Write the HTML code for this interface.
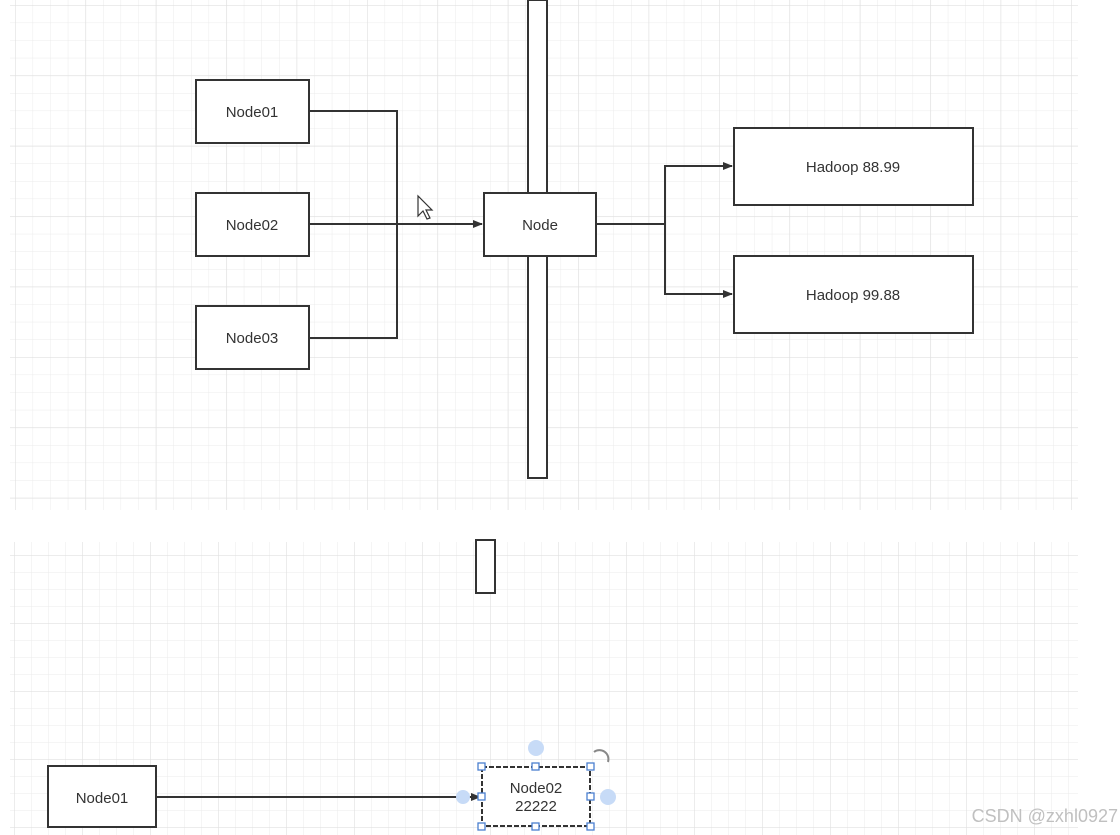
<!DOCTYPE html>
<html><head><style>body{margin:0;background:#fff}svg{display:block}text{font-family:"Liberation Sans",sans-serif;fill:#333}</style></head><body>
<svg width="1120" height="835" xmlns="http://www.w3.org/2000/svg">
<defs>
<pattern id="g1" x="15" y="5" width="17.6" height="17.6" patternUnits="userSpaceOnUse"><path d="M0 0V17.6M0 0H17.6" stroke="#ebebeb" stroke-width="1"/></pattern>
<pattern id="G1" x="15" y="5" width="70.4" height="70.4" patternUnits="userSpaceOnUse"><path d="M0 0V70.4M0 0H70.4" stroke="#e0e0e0" stroke-width="1.2"/></pattern>
<pattern id="g2" x="14" y="555" width="17" height="17" patternUnits="userSpaceOnUse"><path d="M0 0V17M0 0H17" stroke="#ebebeb" stroke-width="1"/></pattern>
<pattern id="G2" x="14" y="555" width="68" height="68" patternUnits="userSpaceOnUse"><path d="M0 0V68M0 0H68" stroke="#e0e0e0" stroke-width="1.2"/></pattern>
<marker id="a" markerWidth="10" markerHeight="8" refX="9" refY="4" orient="auto" markerUnits="userSpaceOnUse"><path d="M0 0L10 4L0 8z" fill="#333"/></marker>
</defs>
<rect x="10" y="0" width="1068" height="510" fill="url(#g1)"/>
<rect x="10" y="0" width="1068" height="510" fill="url(#G1)"/>
<rect x="10" y="542" width="1068" height="293" fill="url(#g2)"/>
<rect x="10" y="542" width="1068" height="293" fill="url(#G2)"/>
<g stroke="#333" stroke-width="2" fill="#fff">
<rect x="528" y="0" width="19" height="478"/>
<rect x="476" y="540" width="19" height="53"/>
<rect x="196" y="80" width="113" height="63"/>
<rect x="196" y="193" width="113" height="63"/>
<rect x="196" y="306" width="113" height="63"/>
<rect x="484" y="193" width="112" height="63"/>
<rect x="734" y="128" width="239" height="77"/>
<rect x="734" y="256" width="239" height="77"/>
<rect x="48" y="766" width="108" height="61"/>
</g>
<g stroke="#333" stroke-width="2" fill="none">
<path d="M309 111H397V338H309"/>
<path d="M309 224H482" marker-end="url(#a)"/>
<path d="M596 224H665V166H732" marker-end="url(#a)"/>
<path d="M665 224V294H732" marker-end="url(#a)"/>
<path d="M156 797H480" marker-end="url(#a)"/>
</g>
<rect x="482" y="767" width="108" height="59" fill="#fff" stroke="#333" stroke-width="2" stroke-dasharray="5 2"/>
<g fill="#fff" stroke="#4a7fd0" stroke-width="1.3">
<rect x="478" y="763" width="7" height="7"/><rect x="532" y="763" width="7" height="7"/><rect x="587" y="763" width="7" height="7"/>
<rect x="478" y="793" width="7" height="7"/><rect x="587" y="793" width="7" height="7"/>
<rect x="478" y="823" width="7" height="7"/><rect x="532" y="823" width="7" height="7"/><rect x="587" y="823" width="7" height="7"/>
</g>
<g fill="#c7dbf7"><circle cx="536" cy="748" r="8"/><circle cx="608" cy="797" r="8"/><circle cx="463" cy="797" r="7"/></g>
<path d="M594 752a9 9 0 0 1 14 10" stroke="#888" stroke-width="2" fill="none"/>
<path d="M418 196v20l5-5 4 8 3-1-4-8 6 0z" fill="#fff" stroke="#333" stroke-width="1.2"/>
<g font-size="15" text-anchor="middle">
<text x="252" y="117">Node01</text><text x="252" y="230">Node02</text><text x="252" y="343">Node03</text>
<text x="540" y="230">Node</text>
<text x="853" y="172">Hadoop 88.99</text><text x="853" y="300">Hadoop 99.88</text>
<text x="102" y="803">Node01</text>
<text x="536" y="793">Node02</text><text x="536" y="811">22222</text>
</g>
<text x="1118" y="822" font-size="18" text-anchor="end" fill="#bbb" style="fill:#c0c0c0">CSDN @zxhl0927</text>
</svg>
</body></html>
